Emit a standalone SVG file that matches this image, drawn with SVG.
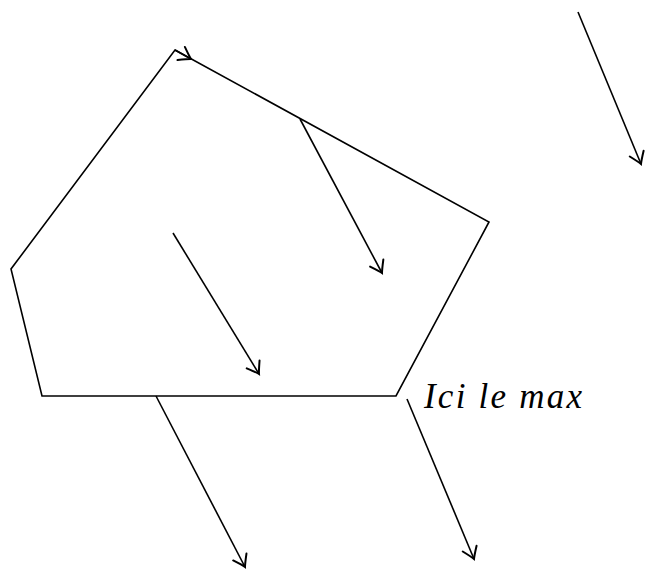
<svg xmlns="http://www.w3.org/2000/svg" width="646" height="570" viewBox="0 0 646 570">
<style>
.ln{fill:none;stroke:#000;stroke-width:1.6;stroke-linejoin:miter}
.ar{fill:none;stroke:#000;stroke-width:1.6;marker-end:url(#to)}
.lbl{font-family:"Liberation Serif","DejaVu Serif",serif;font-style:italic;font-size:35px;fill:#000}
</style>
<defs>
<marker id="to" markerUnits="userSpaceOnUse" markerWidth="20" markerHeight="20" viewBox="-12 -8 14 16" refX="0" refY="0" orient="auto">
<path d="M-9,-6 Q-2,-1 0,0 Q-2,1 -9,6" fill="none" stroke="#000" stroke-width="1.6" stroke-linecap="round"/>
</marker>
</defs>
<g id="polygon">
<polygon class="ln" points="175,50 489,222 396,396 42,396 11,269"/>
</g>
<g id="label">
<text class="lbl" x="424" y="408" textLength="158" lengthAdjust="spacing">Ici le max</text>
</g>
<g id="connectors">
<line class="ar" x1="175" y1="50" x2="191" y2="59"/>
<line class="ar" x1="300" y1="119" x2="382" y2="273"/>
<line class="ar" x1="173" y1="233" x2="259" y2="374"/>
<line class="ar" x1="156" y1="396" x2="245" y2="567"/>
<line class="ar" x1="407" y1="399" x2="474" y2="559"/>
<line class="ar" x1="578" y1="12" x2="641" y2="164"/>
</g>
</svg>
